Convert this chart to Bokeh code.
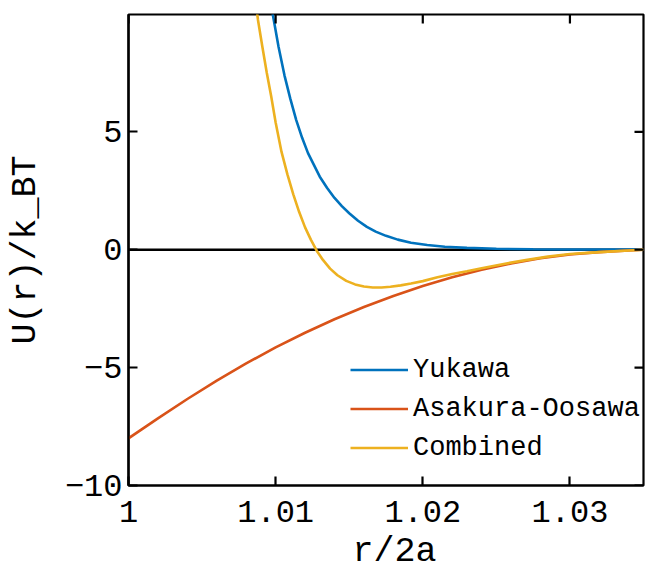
import math
from bokeh.plotting import figure
from bokeh.models import FixedTicker, Span, Legend, LegendItem, Range1d, Title
from bokeh.embed import file_html
from bokeh.resources import INLINE

# ---- data ----
yukawa_r = [1.0095, 1.0098, 1.0102, 1.0106, 1.0110, 1.0114, 1.0118, 1.0122,
            1.0126, 1.0130, 1.0135, 1.0140, 1.0145, 1.0150, 1.0156, 1.0162,
            1.0168, 1.0175, 1.0183, 1.0192, 1.0203, 1.0215, 1.0230, 1.0250,
            1.0275, 1.0300, 1.0350]
yukawa_u = [11.1, 10.0, 8.6, 7.4, 6.4, 5.5, 4.75, 4.1,
            3.6, 3.1, 2.62, 2.2, 1.85, 1.55, 1.23, 0.97,
            0.77, 0.59, 0.43, 0.30, 0.20, 0.13, 0.08, 0.04,
            0.02, 0.01, 0.004]

ao_r = [1.000, 1.002, 1.004, 1.006, 1.008, 1.010, 1.012, 1.014, 1.016,
        1.018, 1.020, 1.022, 1.024, 1.026, 1.028, 1.030, 1.032, 1.034, 1.035]
ao_u = [-8.0, -7.15, -6.33, -5.55, -4.82, -4.14, -3.52, -2.95, -2.43,
        -1.96, -1.54, -1.17, -0.85, -0.58, -0.36, -0.20, -0.10, -0.03, 0.0]

comb_r = [1.0086, 1.0088, 1.0091, 1.0094, 1.0097, 1.0100, 1.0104, 1.0108,
          1.0112, 1.0116, 1.0120, 1.0124, 1.0128, 1.0132, 1.0137, 1.0142,
          1.0148, 1.0154, 1.0160, 1.0166, 1.0172, 1.0178, 1.0185, 1.0192,
          1.0200, 1.0210, 1.0220, 1.0230, 1.0240, 1.0255, 1.0270, 1.0285,
          1.0300, 1.0320, 1.0340, 1.0350]
comb_u = [10.7, 9.75, 8.6, 7.5, 6.5, 5.4, 4.15, 3.2,
          2.35, 1.6, 0.95, 0.42, -0.05, -0.42, -0.8, -1.08,
          -1.32, -1.47, -1.56, -1.60, -1.60, -1.57, -1.51, -1.43,
          -1.33, -1.17, -1.03, -0.91, -0.78, -0.60, -0.44, -0.29,
          -0.18, -0.10, -0.03, 0.0]

series_names = ["Yukawa", "Asakura-Oosawa", "Combined"]
series_colors = ["#0072BD", "#D95319", "#EDB120"]

x_ticks = [1.0, 1.01, 1.02, 1.03]
x_tick_labels = ["1", "1.01", "1.02", "1.03"]
y_ticks = [-10, -5, 0, 5]
y_tick_labels = ["\u221210", "\u22125", "0", "5"]
x_label = "r/2a"
y_label = "U(r)/k_BT"

X_MIN, X_MAX = 1.0, 1.035
Y_MIN, Y_MAX = -10.0, 9.98

FONT = "Liberation Mono"
TICK_FS = "32px"
LABEL_FS = "35px"
LEGEND_FS = "27px"

p = figure(width=670, height=577,
           x_range=Range1d(X_MIN, X_MAX), y_range=Range1d(Y_MIN, Y_MAX),
           output_backend="svg", toolbar_location=None,
           min_border_left=128, min_border_right=27,
           min_border_top=14, min_border_bottom=92,
           y_axis_label=y_label)
p.grid.visible = False
p.outline_line_color = "black"
p.outline_line_width = 2.2
p.background_fill_color = "white"
p.border_fill_color = "white"

# zero reference line
p.add_layout(Span(location=0, dimension="width", line_color="black",
                  line_width=2.5, level="underlay"))

renderers = []
for xs, ys, c in [(yukawa_r, yukawa_u, series_colors[0]),
                  (ao_r, ao_u, series_colors[1]),
                  (comb_r, comb_u, series_colors[2])]:
    renderers.append(p.line(xs, ys, line_color=c, line_width=2.6))

# inward ticks on the top and right edges of the box (half clipped by frame)
p.scatter(x=x_ticks, y=[Y_MAX] * len(x_ticks), marker="dash", size=18,
          angle=math.pi / 2, line_color="black", line_width=2.2)
p.scatter(x=[X_MAX] * len(y_ticks), y=y_ticks, marker="dash", size=18,
          line_color="black", line_width=2.2)


def style_axis(ax):
    ax.axis_line_color = "black"
    ax.axis_line_width = 2.2
    ax.major_tick_line_color = "black"
    ax.major_tick_line_width = 2.2
    ax.major_tick_in = 9
    ax.major_tick_out = 0
    ax.minor_tick_line_color = None
    ax.major_label_text_font = FONT
    ax.major_label_text_font_size = TICK_FS
    ax.major_label_text_color = "black"
    ax.axis_label_text_font = FONT
    ax.axis_label_text_font_size = LABEL_FS
    ax.axis_label_text_font_style = "normal"
    ax.axis_label_text_color = "black"


xa = p.xaxis[0]
xa.ticker = FixedTicker(ticks=x_ticks)
xa.major_label_overrides = dict(zip(x_ticks, x_tick_labels))
style_axis(xa)
xa.major_label_standoff = 15

ya = p.yaxis[0]
ya.ticker = FixedTicker(ticks=y_ticks)
ya.major_label_overrides = dict(zip(y_ticks, y_tick_labels))
style_axis(ya)
ya.major_label_standoff = 6
ya.axis_label_standoff = 16

# x axis title, placed under the tick labels
p.add_layout(Title(text=x_label, align="left", offset=224,
                   vertical_align="bottom", standoff=10,
                   text_font=FONT, text_font_size=LABEL_FS,
                   text_font_style="normal", text_color="black"), "below")

legend = Legend(items=[LegendItem(label=n, renderers=[r])
                       for n, r in zip(series_names, renderers)],
                location=(222, 18), padding=0, margin=0, spacing=0,
                glyph_width=58, glyph_height=39, label_height=39,
                label_standoff=5, label_text_font=FONT,
                label_text_font_size=LEGEND_FS, label_text_color="black",
                border_line_alpha=0, background_fill_alpha=0)
p.add_layout(legend)

open("out.html", "w").write(file_html(p, INLINE))
